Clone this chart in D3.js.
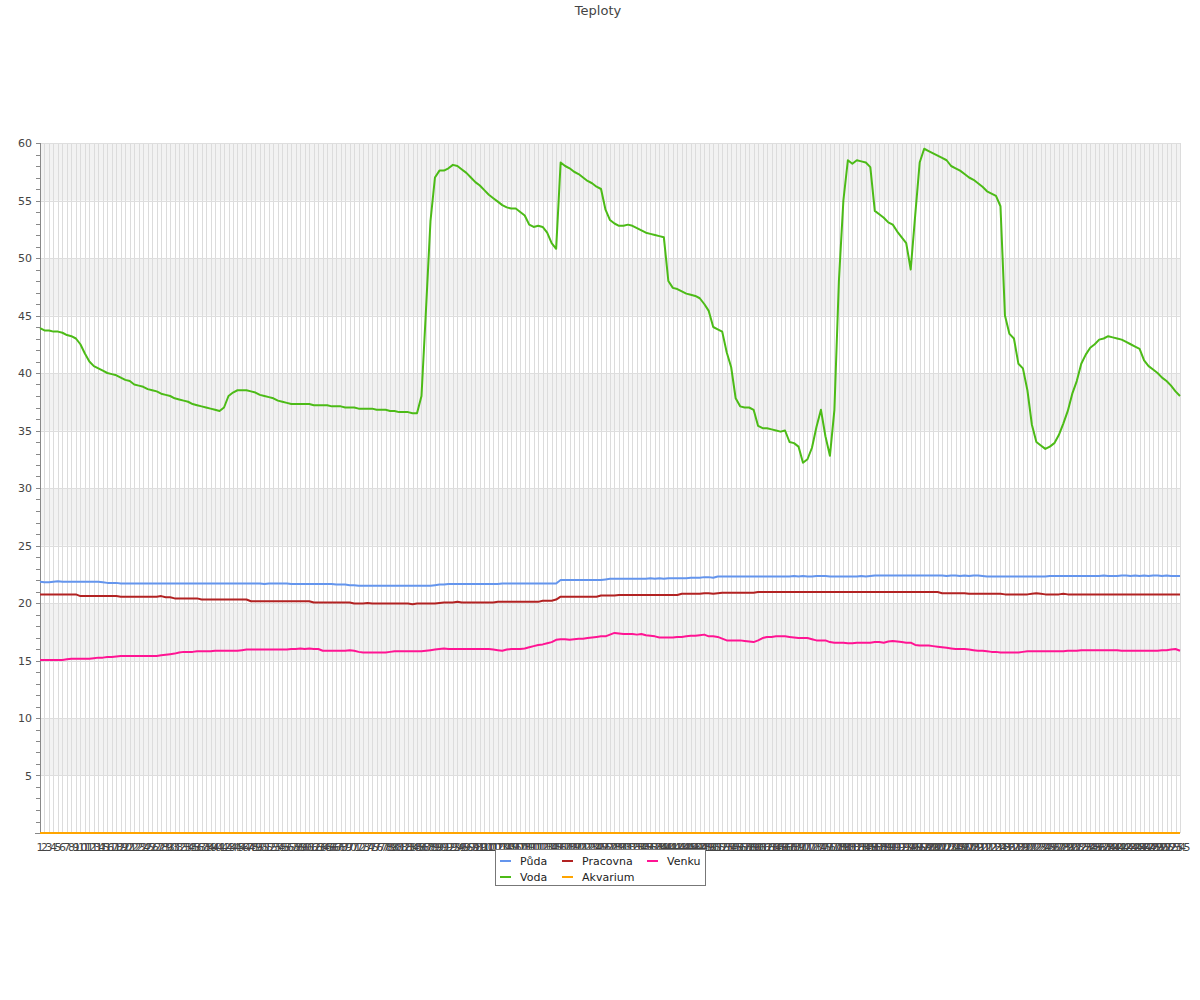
<!DOCTYPE html>
<html><head><meta charset="utf-8">
<script src="https://cdn.jsdelivr.net/npm/d3@7"></script>
<style>body{margin:0;background:#fff;} svg{display:block;font-family:"DejaVu Sans",sans-serif;}</style>
</head><body>
<script>
const title = "Teploty";
const categories = d3.range(1, 256).map(String);
const yTicks = [5,10,15,20,25,30,35,40,45,50,55,60];
const seriesNames = ["Půda","Pracovna","Venku","Voda","Akvarium"];
const seriesColors = ["#6495ed","#b22222","#ff1493","#4cbb17","#ffa500"];

const puda = [
21.85,21.8,21.8,21.85,21.9,21.85,21.85,21.85,21.85,21.85,
21.85,21.85,21.85,21.85,21.8,21.75,21.75,21.75,21.7,21.7,
21.7,21.7,21.7,21.7,21.7,21.7,21.7,21.7,21.7,21.7,
21.7,21.7,21.7,21.7,21.7,21.7,21.7,21.7,21.7,21.7,
21.7,21.7,21.7,21.7,21.7,21.7,21.7,21.7,21.7,21.7,
21.65,21.7,21.7,21.7,21.7,21.7,21.65,21.65,21.65,21.65,
21.65,21.65,21.65,21.65,21.65,21.65,21.6,21.6,21.6,21.55,
21.55,21.5,21.5,21.5,21.5,21.5,21.5,21.5,21.5,21.5,
21.5,21.5,21.5,21.5,21.5,21.5,21.5,21.5,21.55,21.6,
21.6,21.65,21.65,21.65,21.65,21.65,21.65,21.65,21.65,21.65,
21.65,21.65,21.65,21.7,21.7,21.7,21.7,21.7,21.7,21.7,
21.7,21.7,21.7,21.7,21.7,21.7,22.0,22.0,22.0,22.0,
22.0,22.0,22.0,22.0,22.0,22.0,22.05,22.1,22.1,22.1,
22.1,22.1,22.1,22.1,22.1,22.1,22.15,22.1,22.15,22.1,
22.15,22.15,22.15,22.15,22.15,22.2,22.2,22.2,22.25,22.25,
22.2,22.3,22.3,22.3,22.3,22.3,22.3,22.3,22.3,22.3,
22.3,22.3,22.3,22.3,22.3,22.3,22.3,22.3,22.35,22.3,
22.35,22.3,22.3,22.35,22.35,22.35,22.3,22.3,22.3,22.3,
22.3,22.3,22.3,22.35,22.3,22.35,22.4,22.4,22.4,22.4,
22.4,22.4,22.4,22.4,22.4,22.4,22.4,22.4,22.4,22.4,
22.4,22.4,22.35,22.4,22.4,22.35,22.4,22.35,22.4,22.4,
22.35,22.3,22.3,22.3,22.3,22.3,22.3,22.3,22.3,22.3,
22.3,22.3,22.3,22.3,22.3,22.35,22.35,22.35,22.35,22.35,
22.35,22.35,22.35,22.35,22.35,22.35,22.35,22.4,22.35,22.35,
22.35,22.4,22.4,22.35,22.4,22.35,22.4,22.35,22.4,22.4,
22.35,22.4,22.35,22.35,22.35];

const pracovna = [
20.75,20.75,20.75,20.75,20.75,20.75,20.75,20.75,20.75,20.6,
20.6,20.6,20.6,20.6,20.6,20.6,20.6,20.6,20.55,20.55,
20.55,20.55,20.55,20.55,20.55,20.55,20.55,20.6,20.5,20.5,
20.4,20.4,20.4,20.4,20.4,20.4,20.3,20.3,20.3,20.3,
20.3,20.3,20.3,20.3,20.3,20.3,20.3,20.15,20.15,20.15,
20.15,20.15,20.15,20.15,20.15,20.15,20.15,20.15,20.15,20.15,
20.15,20.05,20.05,20.05,20.05,20.05,20.05,20.05,20.05,20.05,
19.95,19.95,19.95,20.0,19.95,19.95,19.95,19.95,19.95,19.95,
19.95,19.95,19.95,19.9,19.95,19.95,19.95,19.95,19.95,20.0,
20.05,20.05,20.05,20.1,20.05,20.05,20.05,20.05,20.05,20.05,
20.05,20.05,20.1,20.1,20.1,20.1,20.1,20.1,20.1,20.1,
20.1,20.1,20.2,20.2,20.2,20.3,20.55,20.55,20.55,20.55,
20.55,20.55,20.55,20.55,20.55,20.65,20.65,20.65,20.65,20.7,
20.7,20.7,20.7,20.7,20.7,20.7,20.7,20.7,20.7,20.7,
20.7,20.7,20.7,20.8,20.8,20.8,20.8,20.8,20.85,20.85,
20.8,20.85,20.9,20.9,20.9,20.9,20.9,20.9,20.9,20.9,
20.95,20.95,20.95,20.95,20.95,20.95,20.95,20.95,20.95,20.95,
20.95,20.95,20.95,20.95,20.95,20.95,20.95,20.95,20.95,20.95,
20.95,20.95,20.95,20.95,20.95,20.95,20.95,20.95,20.95,20.95,
20.95,20.95,20.95,20.95,20.95,20.95,20.95,20.95,20.95,20.95,
20.95,20.85,20.85,20.85,20.85,20.85,20.85,20.8,20.8,20.8,
20.8,20.8,20.8,20.8,20.8,20.75,20.75,20.75,20.75,20.75,
20.75,20.8,20.85,20.8,20.75,20.75,20.75,20.75,20.8,20.75,
20.75,20.75,20.75,20.75,20.75,20.75,20.75,20.75,20.75,20.75,
20.75,20.75,20.75,20.75,20.75,20.75,20.75,20.75,20.75,20.75,
20.75,20.75,20.75,20.75,20.75];

const venku = [
15.05,15.05,15.05,15.05,15.05,15.05,15.1,15.15,15.15,15.15,
15.15,15.15,15.2,15.25,15.25,15.3,15.3,15.35,15.4,15.4,
15.4,15.4,15.4,15.4,15.4,15.4,15.4,15.45,15.5,15.55,
15.6,15.7,15.75,15.75,15.75,15.8,15.8,15.8,15.8,15.85,
15.85,15.85,15.85,15.85,15.85,15.9,15.95,15.95,15.95,15.95,
15.95,15.95,15.95,15.95,15.95,15.95,16.0,16.0,16.05,16.0,
16.05,16.0,16.0,15.85,15.85,15.85,15.85,15.85,15.85,15.9,
15.85,15.75,15.7,15.7,15.7,15.7,15.7,15.7,15.75,15.8,
15.8,15.8,15.8,15.8,15.8,15.8,15.85,15.9,15.95,16.0,
16.05,16.0,16.0,16.0,16.0,16.0,16.0,16.0,16.0,16.0,
16.0,15.95,15.9,15.85,15.95,16.0,16.0,16.0,16.05,16.15,
16.25,16.35,16.4,16.5,16.6,16.8,16.85,16.85,16.8,16.85,
16.9,16.9,16.95,17.0,17.05,17.1,17.1,17.25,17.4,17.35,
17.3,17.3,17.3,17.25,17.3,17.2,17.15,17.1,17.0,17.0,
17.0,17.0,17.05,17.05,17.1,17.15,17.15,17.2,17.25,17.1,
17.1,17.05,16.9,16.75,16.75,16.75,16.75,16.7,16.65,16.6,
16.75,16.95,17.05,17.05,17.1,17.1,17.1,17.05,17.0,16.95,
16.95,16.95,16.85,16.75,16.75,16.75,16.6,16.55,16.55,16.55,
16.5,16.5,16.55,16.55,16.55,16.55,16.6,16.6,16.55,16.65,
16.7,16.65,16.6,16.55,16.55,16.35,16.3,16.3,16.3,16.25,
16.2,16.15,16.1,16.05,16.0,16.0,16.0,15.95,15.9,15.85,
15.85,15.8,15.75,15.75,15.7,15.7,15.7,15.7,15.7,15.75,
15.8,15.8,15.8,15.8,15.8,15.8,15.8,15.8,15.8,15.85,
15.85,15.85,15.9,15.9,15.9,15.9,15.9,15.9,15.9,15.9,
15.9,15.85,15.85,15.85,15.85,15.85,15.85,15.85,15.85,15.85,
15.9,15.9,15.95,16.0,15.85];

const voda = [
43.9,43.7,43.7,43.6,43.6,43.5,43.3,43.2,43.0,42.5,
41.7,41.0,40.6,40.4,40.2,40.0,39.9,39.8,39.6,39.4,
39.3,39.0,38.9,38.8,38.6,38.5,38.4,38.2,38.1,38.0,
37.8,37.7,37.6,37.5,37.3,37.2,37.1,37.0,36.9,36.8,
36.7,37.0,38.0,38.3,38.5,38.5,38.5,38.4,38.3,38.1,
38.0,37.9,37.8,37.6,37.5,37.4,37.3,37.3,37.3,37.3,
37.3,37.2,37.2,37.2,37.2,37.1,37.1,37.1,37.0,37.0,
37.0,36.9,36.9,36.9,36.9,36.8,36.8,36.8,36.7,36.7,
36.6,36.6,36.6,36.5,36.5,38.0,45.5,53.2,57.0,57.6,
57.6,57.8,58.1,58.0,57.7,57.4,57.0,56.6,56.3,55.9,
55.5,55.2,54.9,54.6,54.4,54.3,54.3,54.0,53.7,52.9,
52.7,52.8,52.7,52.2,51.3,50.8,58.3,58.0,57.8,57.5,
57.3,57.0,56.7,56.5,56.2,56.0,54.2,53.3,53.0,52.8,
52.8,52.9,52.8,52.6,52.4,52.2,52.1,52.0,51.9,51.8,
48.0,47.4,47.3,47.1,46.9,46.8,46.7,46.5,46.0,45.4,
44.0,43.8,43.6,41.8,40.5,37.8,37.1,37.0,37.0,36.8,
35.4,35.2,35.2,35.1,35.0,34.9,35.0,34.0,33.9,33.6,
32.2,32.5,33.5,35.3,36.8,34.5,32.8,36.8,48.0,55.0,
58.5,58.2,58.5,58.4,58.3,57.9,54.1,53.8,53.5,53.1,
52.9,52.3,51.8,51.3,49.0,53.7,58.3,59.5,59.3,59.1,
58.9,58.7,58.5,58.0,57.8,57.6,57.3,57.0,56.8,56.5,
56.2,55.8,55.6,55.4,54.5,45.0,43.4,43.0,40.8,40.4,
38.5,35.5,34.0,33.7,33.4,33.6,33.9,34.6,35.6,36.7,
38.2,39.3,40.8,41.6,42.2,42.5,42.9,43.0,43.2,43.1,
43.0,42.9,42.7,42.5,42.3,42.1,41.1,40.6,40.3,40.0,
39.6,39.3,38.9,38.4,38.0];

const akvarium = [
0,0,0,0,0,0,0,0,0,0, 0,0,0,0,0,0,0,0,0,0, 0,0,0,0,0,0,0,0,0,0,
0,0,0,0,0,0,0,0,0,0, 0,0,0,0,0,0,0,0,0,0, 0,0,0,0,0,0,0,0,0,0,
0,0,0,0,0,0,0,0,0,0, 0,0,0,0,0,0,0,0,0,0, 0,0,0,0,0,0,0,0,0,0,
0,0,0,0,0,0,0,0,0,0, 0,0,0,0,0,0,0,0,0,0, 0,0,0,0,0,0,0,0,0,0,
0,0,0,0,0,0,0,0,0,0, 0,0,0,0,0,0,0,0,0,0, 0,0,0,0,0,0,0,0,0,0,
0,0,0,0,0,0,0,0,0,0, 0,0,0,0,0,0,0,0,0,0, 0,0,0,0,0,0,0,0,0,0,
0,0,0,0,0,0,0,0,0,0, 0,0,0,0,0,0,0,0,0,0, 0,0,0,0,0,0,0,0,0,0,
0,0,0,0,0,0,0,0,0,0, 0,0,0,0,0,0,0,0,0,0, 0,0,0,0,0,0,0,0,0,0,
0,0,0,0,0,0,0,0,0,0, 0,0,0,0,0];

const seriesData = [puda, pracovna, venku, voda, akvarium];

const W = 1200, H = 1000;
const L = 40, R = 1180, T = 143, B = 833;

const svg = d3.select("body").append("svg").attr("width", W).attr("height", H);

const x = d3.scalePoint().domain(categories).range([L, R]);
const y = d3.scaleLinear().domain([0, 60]).range([B, T]);

// title
svg.append("text").attr("x", 598).attr("y", 15).attr("text-anchor", "middle")
  .attr("font-size", 13).attr("fill", "#444").text(title);

// bands
const g = svg.append("g");
g.selectAll("rect.band").data(d3.range(5, 60, 10)).join("rect")
  .attr("x", L).attr("width", R - L)
  .attr("y", d => y(d + 5)).attr("height", d => y(d) - y(d + 5))
  .attr("fill", "#f2f2f2");

// vertical grid
g.selectAll("line.vg").data(categories).join("line")
  .attr("x1", d => Math.round(x(d)) + 0.5).attr("x2", d => Math.round(x(d)) + 0.5)
  .attr("y1", T).attr("y2", B)
  .attr("stroke", "#dcdcdc").attr("stroke-width", 1);

// horizontal grid
g.selectAll("line.hg").data(yTicks).join("line")
  .attr("x1", L).attr("x2", R)
  .attr("y1", d => Math.round(y(d)) + 0.5).attr("y2", d => Math.round(y(d)) + 0.5)
  .attr("stroke", "#dedede").attr("stroke-width", 1);

// y axis
const yAxisG = svg.append("g");
yAxisG.append("line").attr("x1", L + 0.5).attr("x2", L + 0.5).attr("y1", T).attr("y2", B + 0.5)
  .attr("stroke", "#888");
yAxisG.selectAll("line.mt").data(d3.range(0, 61, 1)).join("line")
  .attr("x1", L - 4).attr("x2", L)
  .attr("y1", d => Math.round(y(d)) + 0.5).attr("y2", d => Math.round(y(d)) + 0.5)
  .attr("stroke", "#888");
yAxisG.selectAll("text").data(yTicks).join("text")
  .attr("x", L - 8).attr("y", d => y(d) + 4)
  .attr("text-anchor", "end").attr("font-size", 11).attr("fill", "#444")
  .text(d => d);

// x axis line
svg.append("line").attr("x1", L - 5).attr("x2", R).attr("y1", B + 0.5).attr("y2", B + 0.5)
  .attr("stroke", "#888");

// x labels
svg.append("g").selectAll("text").data(categories).join("text")
  .attr("x", d => x(d)).attr("y", B + 18)
  .attr("text-anchor", "middle").attr("font-size", 11).attr("fill", "#444")
  .text(d => d);

// lines
const line = d3.line().x((d, i) => x(categories[i])).y(d => y(d));
const drawOrder = [4, 0, 1, 2, 3];
svg.append("g").selectAll("path").data(drawOrder).join("path")
  .attr("d", k => line(seriesData[k]))
  .attr("fill", "none").attr("stroke", k => seriesColors[k])
  .attr("stroke-width", 2).attr("stroke-linejoin", "round");

// legend
const lg = svg.append("g");
lg.append("rect").attr("x", 495.5).attr("y", 849.5).attr("width", 210).attr("height", 36)
  .attr("fill", "#fff").attr("stroke", "#777");
const legPos = [[500, 861], [562, 861], [647, 861], [500, 877], [562, 877]];
seriesNames.forEach((n, k) => {
  const [lx, ly] = legPos[k];
  lg.append("line").attr("x1", lx).attr("x2", lx + 11).attr("y1", ly).attr("y2", ly)
    .attr("stroke", seriesColors[k]).attr("stroke-width", 2);
  lg.append("text").attr("x", lx + 20).attr("y", ly + 4).attr("font-size", 11)
    .attr("fill", "#222").text(n);
});
</script>
</body></html>
